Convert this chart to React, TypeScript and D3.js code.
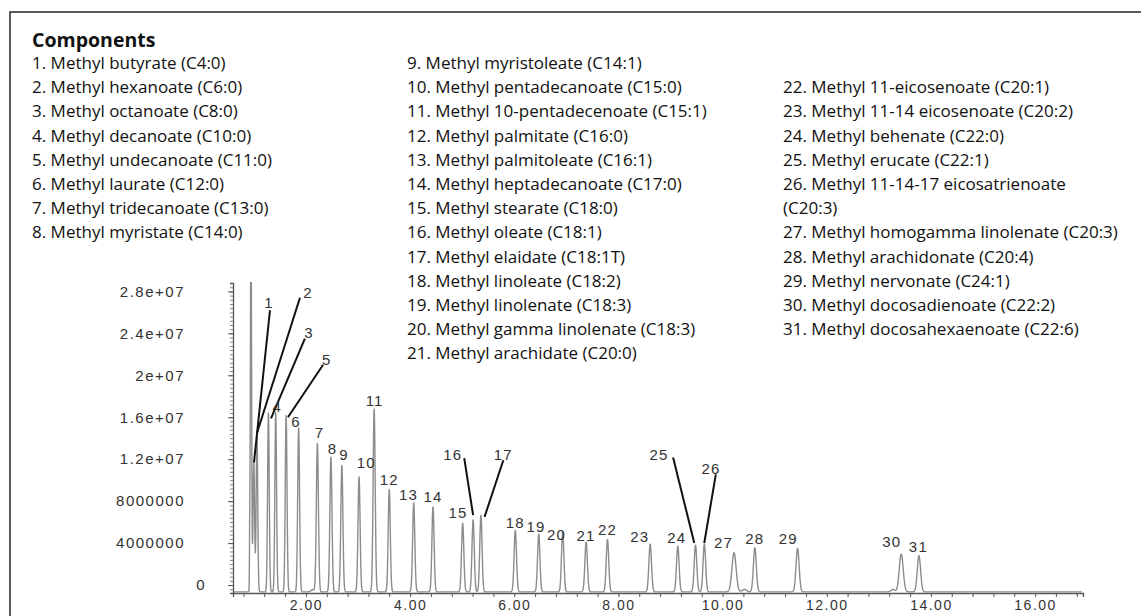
import { useEffect, useRef } from "react";
import * as d3 from "d3";

const W = 1141;
const H = 616;

// ---- legend ----
const legendTitle = "Components";
const legendCol1 = [
  "1. Methyl butyrate (C4:0)",
  "2. Methyl hexanoate (C6:0)",
  "3. Methyl octanoate (C8:0)",
  "4. Methyl decanoate (C10:0)",
  "5. Methyl undecanoate (C11:0)",
  "6. Methyl laurate (C12:0)",
  "7. Methyl tridecanoate (C13:0)",
  "8. Methyl myristate (C14:0)",
];
const legendCol2 = [
  "9. Methyl myristoleate (C14:1)",
  "10. Methyl pentadecanoate (C15:0)",
  "11. Methyl 10-pentadecenoate (C15:1)",
  "12. Methyl palmitate (C16:0)",
  "13. Methyl palmitoleate (C16:1)",
  "14. Methyl heptadecanoate (C17:0)",
  "15. Methyl stearate (C18:0)",
  "16. Methyl oleate (C18:1)",
  "17. Methyl elaidate (C18:1T)",
  "18. Methyl linoleate (C18:2)",
  "19. Methyl linolenate (C18:3)",
  "20. Methyl gamma linolenate (C18:3)",
  "21. Methyl arachidate (C20:0)",
];
const legendCol3 = [
  "22. Methyl 11-eicosenoate (C20:1)",
  "23. Methyl 11-14 eicosenoate (C20:2)",
  "24. Methyl behenate (C22:0)",
  "25. Methyl erucate (C22:1)",
  "26. Methyl 11-14-17 eicosatrienoate",
  "(C20:3)",
  "27. Methyl homogamma linolenate (C20:3)",
  "28. Methyl arachidonate (C20:4)",
  "29. Methyl nervonate (C24:1)",
  "30. Methyl docosadienoate (C22:2)",
  "31. Methyl docosahexaenoate (C22:6)",
];

// ---- peak table (retention time in min, apex abundance, sigma in min) ----
const peakTimes = [
  1.0, 1.06, 1.28, 1.42, 1.62, 1.86, 2.22, 2.48, 2.69, 3.02, 3.31, 3.6, 4.07, 4.44, 5.01, 5.21,
  5.36, 6.02, 6.47, 6.93, 7.38, 7.79, 8.61, 9.14, 9.48, 9.65, 10.22, 10.62, 11.44, 13.43, 13.77,
];
const peakHeights = [
  1.17e7, 1.45e7, 1.64e7, 1.65e7, 1.62e7, 1.5e7, 1.35e7, 1.22e7, 1.14e7, 1.03e7, 1.68e7, 9.1e6,
  7.8e6, 7.45e6, 5.9e6, 6.2e6, 6.65e6, 5.2e6, 4.85e6, 5.1e6, 4.1e6, 4.35e6, 3.9e6, 3.7e6, 3.8e6,
  3.9e6, 3.08e6, 3.55e6, 3.5e6, 2.95e6, 2.8e6,
];
const peakSigmas = [
  0.015, 0.015, 0.016, 0.016, 0.017, 0.018, 0.02, 0.02, 0.02, 0.02, 0.02, 0.02, 0.021, 0.021,
  0.022, 0.022, 0.022, 0.023, 0.023, 0.023, 0.024, 0.024, 0.025, 0.025, 0.025, 0.025, 0.04, 0.028,
  0.03, 0.038, 0.032,
];

// where each peak number sits (time, abundance)
const labelTimes = [
  1.29, 2.04, 2.06, 1.45, 2.4, 1.81, 2.26, 2.51, 2.73, 3.16, 3.32, 3.6, 3.97, 4.44, 4.92, 4.82,
  5.79, 6.02, 6.42, 6.81, 7.38, 7.79, 8.41, 9.12, 8.78, 9.78, 10.02, 10.62, 11.26, 13.25, 13.76,
];
const labelHeights = [
  2.69e7, 2.79e7, 2.41e7, 1.7e7, 2.15e7, 1.56e7, 1.45e7, 1.3e7, 1.24e7, 1.17e7, 1.76e7, 1.01e7,
  8.6e6, 8.4e6, 6.9e6, 1.24e7, 1.24e7, 6.0e6, 5.55e6, 4.85e6, 4.75e6, 5.3e6, 4.65e6, 4.55e6,
  1.24e7, 1.11e7, 4.05e6, 4.4e6, 4.45e6, 4.1e6, 3.65e6,
];

// leader lines for crowded labels
const leaderFromT = [1.31, 1.885, 1.98, 2.33, 5.04, 5.79, 9.05, 9.87];
const leaderFromV = [2.62e7, 2.74e7, 2.35e7, 2.1e7, 1.21e7, 1.19e7, 1.215e7, 1.055e7];
const leaderToT = [1.003, 1.061, 1.33, 1.655, 5.21, 5.43, 9.457, 9.648];
const leaderToV = [1.17e7, 1.45e7, 1.59e7, 1.6e7, 6.67e6, 6.5e6, 4.0e6, 4.0e6];

// unlabelled features: pre-spike, solvent front, small bumps
const extraTimes = [0.92, 0.945, 2.13, 10.42, 13.27];
const extraHeights = [2.4e6, 3.4e7, -4.5e5, -4.2e5, -4.2e5];
const extraSigmas = [0.004, 0.012, 0.03, 0.04, 0.035];

const BASELINE = -6.5e5;

const yTickValues = [0, 4e6, 8e6, 1.2e7, 1.6e7, 2e7, 2.4e7, 2.8e7];
const yTickLabels = ["0", "4000000", "8000000", "1.2e+07", "1.6e+07", "2e+07", "2.4e+07", "2.8e+07"];
const xTickValues = [2, 4, 6, 8, 10, 12, 14, 16];

export default function App() {
  const ref = useRef<SVGSVGElement | null>(null);

  useEffect(() => {
    if (!ref.current) return;
    const svg = d3.select(ref.current);
    svg.selectAll("*").remove();

    const x = d3.scaleLinear().domain([0.6, 16.92]).range([233, 1083]);
    const y = d3.scaleLinear().domain([-7.6e5, 2.88e7]).range([593, 283]);

    // frame (only top + left visible)
    svg
      .append("rect")
      .attr("x", 10)
      .attr("y", 12)
      .attr("width", 1300)
      .attr("height", 800)
      .attr("fill", "none")
      .attr("stroke", "#333")
      .attr("stroke-width", 1.6);

    // ---------- legend ----------
    const lg = svg
      .append("g")
      .attr("font-family", "'Open Sans', 'Noto Sans', sans-serif")
      .attr("font-size", 17)
      .attr("fill", "#111");
    lg.append("text")
      .attr("x", 32)
      .attr("y", 46.5)
      .attr("font-weight", 700)
      .attr("font-size", 19.5)
      .text(legendTitle);
    const cols: [string[], number, number][] = [
      [legendCol1, 32, 0],
      [legendCol2, 407, 0],
      [legendCol3, 783, 1],
    ];
    for (const [items, cx, start] of cols) {
      lg.append("g")
        .selectAll("text")
        .data(items)
        .join("text")
        .attr("x", cx)
        .attr("y", (_, i) => 69 + 24.2 * (i + start))
        .text((d) => d);
    }

    // ---------- axes ----------
    const axisColor = "#555";
    const xAxis = d3
      .axisBottom(x)
      .tickValues(d3.range(0.8, 16.92, 0.4))
      .tickSize(4)
      .tickPadding(3)
      .tickFormat((d) => {
        const v = +d;
        return xTickValues.some((t) => Math.abs(t - v) < 1e-6) ? v.toFixed(2) : "";
      });
    const gx = svg.append("g").attr("transform", `translate(0,593)`).call(xAxis);
    gx.select(".domain").attr("stroke", axisColor).attr("stroke-width", 1.3);
    gx.selectAll(".tick line").attr("stroke", axisColor);
    gx.selectAll(".tick text")
      .attr("font-family", "'Liberation Sans', Arial, sans-serif")
      .attr("font-size", 14)
      .attr("letter-spacing", 1.5)
      .attr("fill", "#333");

    const yMinor = d3
      .axisLeft(y)
      .tickValues(d3.range(-4e5, 2.88e7, 4e5))
      .tickSize(3)
      .tickFormat(() => "");
    const gyMinor = svg.append("g").attr("transform", `translate(233,0)`).call(yMinor);
    gyMinor.select(".domain").attr("stroke", axisColor).attr("stroke-width", 1.3);
    gyMinor.selectAll(".tick line").attr("stroke", "#888");

    const yAxis = d3
      .axisLeft(y)
      .tickValues(yTickValues)
      .tickSize(5)
      .tickPadding(43)
      .tickFormat((_, i) => yTickLabels[i]);
    const gy = svg.append("g").attr("transform", `translate(233,0)`).call(yAxis);
    gy.select(".domain").remove();
    gy.selectAll(".tick line").attr("stroke", axisColor);
    gy.selectAll<SVGTextElement, number>(".tick text")
      .attr("font-family", "'Liberation Sans', Arial, sans-serif")
      .attr("font-size", 15)
      .attr("letter-spacing", 1.5)
      .attr("fill", "#333")
      .attr("x", (d) => (d === 0 ? -27 : -48));

    // ---------- chromatogram ----------
    const comps = [
      ...peakTimes.map((t, i) => ({ t, h: peakHeights[i], s: peakSigmas[i] })),
      ...extraTimes.map((t, i) => ({ t, h: extraHeights[i], s: extraSigmas[i] })),
    ];
    const grid = d3.range(0.62, 16.9, 0.003);
    const signal = grid.map((t) => {
      let v = BASELINE;
      for (const c of comps) {
        const z = (t - c.t) / c.s;
        if (Math.abs(z) < 6) v += (c.h - BASELINE) * Math.exp(-0.5 * z * z);
      }
      return [t, v] as [number, number];
    });

    svg
      .append("defs")
      .append("clipPath")
      .attr("id", "plot-clip")
      .append("rect")
      .attr("x", 234)
      .attr("y", 282)
      .attr("width", 850)
      .attr("height", 320);

    const line = d3
      .line<[number, number]>()
      .x((d) => x(d[0]))
      .y((d) => y(d[1]));

    svg
      .append("path")
      .attr("clip-path", "url(#plot-clip)")
      .attr("d", line(signal))
      .attr("fill", "none")
      .attr("stroke", "#8c8c8c")
      .attr("stroke-width", 1.4)
      .attr("stroke-linejoin", "round");

    // ---------- leader lines ----------
    svg
      .append("g")
      .attr("stroke", "#111")
      .attr("stroke-width", 2)
      .selectAll("line")
      .data(leaderFromT)
      .join("line")
      .attr("x1", (d) => x(d))
      .attr("y1", (_, i) => y(leaderFromV[i]))
      .attr("x2", (_, i) => x(leaderToT[i]))
      .attr("y2", (_, i) => y(leaderToV[i]));

    // ---------- peak numbers ----------
    svg
      .append("g")
      .attr("font-family", "'Liberation Sans', Arial, sans-serif")
      .attr("font-size", 15)
      .attr("letter-spacing", 1.2)
      .attr("fill", "#333")
      .attr("text-anchor", "middle")
      .selectAll("text")
      .data(labelTimes)
      .join("text")
      .attr("x", (d) => x(d))
      .attr("y", (_, i) => y(labelHeights[i]))
      .attr("dy", "0.36em")
      .text((_, i) => String(i + 1));
  }, []);

  return (
    <svg
      ref={ref}
      width={W}
      height={H}
      style={{ position: "absolute", left: 0, top: 0, background: "#fff" }}
    />
  );
}
